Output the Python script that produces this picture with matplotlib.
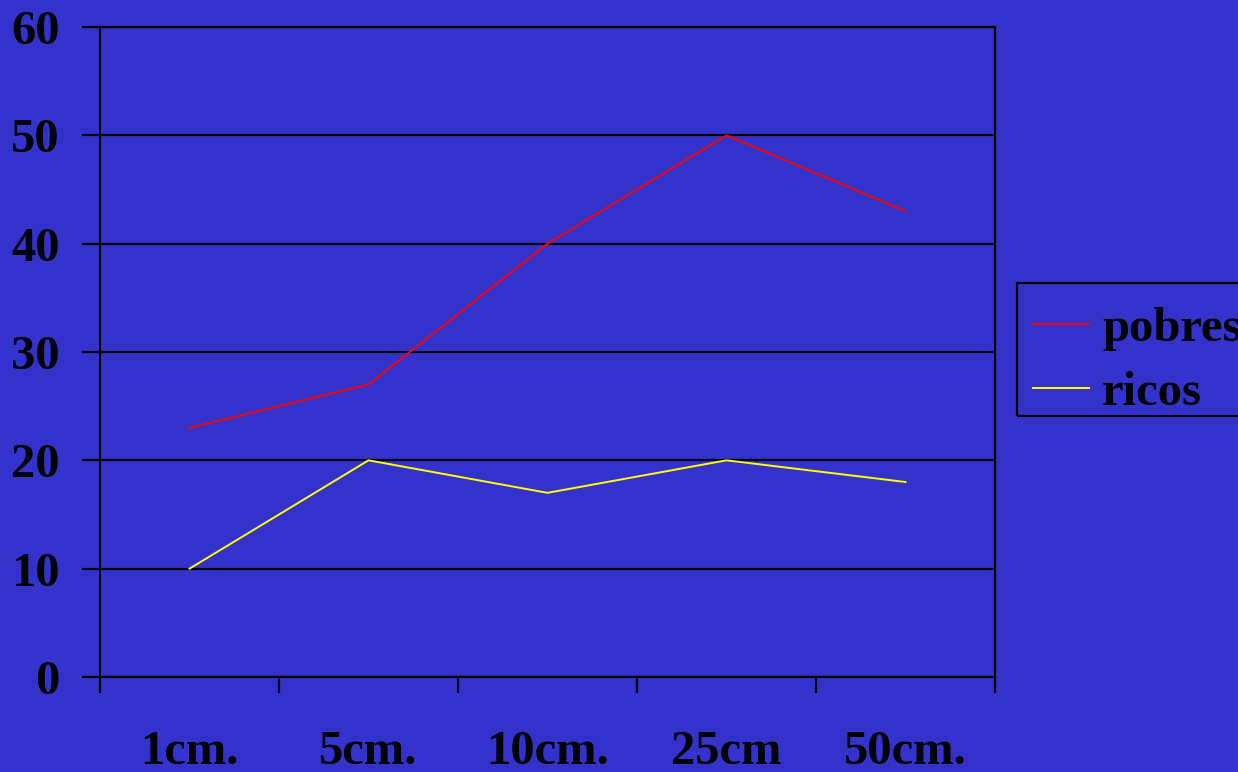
import matplotlib.pyplot as plt
from matplotlib.patches import Rectangle

categories = ['1cm.', '5cm.', '10cm.', '25cm', '50cm.']
pobres = [23, 27, 40, 50, 43]
ricos = [10, 20, 17, 20, 18]
yticks = [0, 10, 20, 30, 40, 50, 60]

bg = '#3333CC'
plt.rcParams['font.family'] = ['Liberation Serif', 'DejaVu Serif']
plt.rcParams['font.weight'] = 'bold'

W, H = 1238, 772
fig = plt.figure(figsize=(W / 100, H / 100), dpi=100, facecolor=bg)
ax = fig.add_axes([100 / W, 1 - 677 / H, 895 / W, 650 / H])
ax.set_facecolor(bg)

x = list(range(len(categories)))
ax.plot(x, pobres, color='#FF0000', lw=1.4, label='pobres')
ax.plot(x, ricos, color='#FFFF00', lw=1.4, label='ricos')

ax.set_xlim(-0.5, len(categories) - 0.5)
ax.set_ylim(0, 60)
ax.set_yticks(yticks)
ax.set_yticklabels([str(v) for v in yticks], fontsize=35, fontweight='bold')
ax.yaxis.grid(True, color='black', lw=1.6)
ax.set_axisbelow(True)

# category boundaries as major ticks, labels on minor ticks
ax.set_xticks([i - 0.5 for i in range(len(categories) + 1)])
ax.set_xticklabels([])
ax.set_xticks(x, minor=True)
ax.set_xticklabels(categories, minor=True, fontsize=35, fontweight='bold')
ax.tick_params(axis='x', which='major', direction='out', length=11.5, width=1.6)
ax.tick_params(axis='x', which='minor', length=0, pad=38)
ax.tick_params(axis='y', direction='out', length=13, width=1.6, pad=16)

for s in ax.spines.values():
    s.set_color('black')
    s.set_linewidth(1.6)

# legend frame drawn separately, text sits low in the box like the original
fig.patches.append(Rectangle((1017 / W, 1 - 416 / H), 240 / W, 133 / H,
                             transform=fig.transFigure, facecolor='none',
                             edgecolor='black', lw=1.6))
fig.legend(loc='center left', bbox_to_anchor=(1033 / W, 1 - 361 / H),
           prop={'family': 'Liberation Serif', 'weight': 'bold', 'size': 35},
           frameon=False, handlelength=1.15, handletextpad=0.27,
           labelspacing=0.43, borderpad=0, borderaxespad=0)

fig.savefig('out.png', dpi=100, facecolor=bg)
